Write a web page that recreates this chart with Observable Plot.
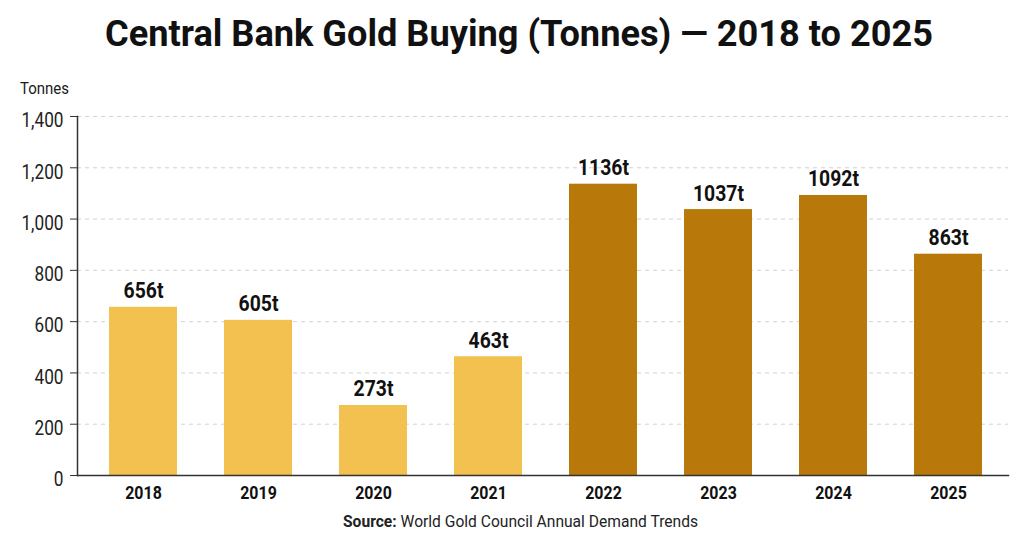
<!DOCTYPE html>
<html><head><meta charset="utf-8">
<script src="https://cdn.jsdelivr.net/npm/d3@7"></script>
<script src="https://cdn.jsdelivr.net/npm/@observablehq/plot@0.6"></script>
<style>
body{margin:0;background:#fff;font-family:Roboto,sans-serif;}
#wrap{position:relative;width:1024px;height:536px;overflow:hidden;background:#fff;}
#chart{position:absolute;left:0;top:75px;}
.line{position:absolute;white-space:nowrap;line-height:1;}
.line span{display:inline-block;transform-origin:left center;}
#title{left:0;top:15px;font-size:37px;font-weight:bold;color:#111;}
#ylab{left:19px;top:81px;font-size:16px;font-weight:normal;color:#1a1a1a;}
#cap{left:0;top:514px;font-size:16px;color:#222;}
</style></head>
<body><div id="wrap">
<div id="chart"></div>
<div id="title" class="line"><span>Central Bank Gold Buying (Tonnes) — 2018 to 2025</span></div>
<div id="ylab" class="line"><span>Tonnes</span></div>
<div id="cap" class="line"><span><b>Source:</b> World Gold Council Annual Demand Trends</span></div>
</div>
<script>
const years = ["2018","2019","2020","2021","2022","2023","2024","2025"];
const tonnes = [656, 605, 273, 463, 1136, 1037, 1092, 863];
const period = ["before","before","before","before","after","after","after","after"];
const yTicks = [0, 200, 400, 600, 800, 1000, 1200, 1400];

const data = years.map((y, i) => ({year: y, value: tonnes[i], period: period[i]}));

const chart = Plot.plot({
  width: 1024,
  height: 430,
  marginLeft: 77,
  marginRight: 16,
  marginTop: 41,
  marginBottom: 30,
  insetLeft: 6,
  style: {fontFamily: "Roboto, sans-serif", background: "transparent"},
  x: {domain: years, paddingInner: 0.41, paddingOuter: 0.21, label: null},
  y: {domain: [0, 1400], label: null},
  color: {domain: ["before","after"], range: ["#F2C14F","#B8790A"]},
  marks: [
    Plot.gridY(yTicks, {stroke: "#d2d2d2", strokeOpacity: 1, strokeDasharray: "4,4"}),
    Plot.barY(data, {x: "year", y: "value", fill: "period"}),
    Plot.frame({anchor: "left", stroke: "#333", strokeWidth: 1.5}),
    Plot.frame({anchor: "bottom", stroke: "#333", strokeWidth: 1.5}),
    Plot.axisY({ticks: yTicks, tickSize: 7, tickPadding: 7, tickFormat: d3.format(","), fontSize: 21, stroke: "#333", fill: "#222", className: "ylabels"}),
    Plot.axisX({tickSize: 0, tickPadding: 10, fontSize: 19, fontWeight: "bold", fill: "#111", className: "xlabels"}),
    Plot.text(data, {x: "year", y: "value", text: d => d.value + "t", dy: -9, lineAnchor: "bottom", fontSize: 22, fontWeight: "bold", fill: "#111", className: "vlabels"})
  ]
});
document.getElementById("chart").appendChild(chart);

function squeeze(sel, sx, ty = 0) {
  chart.querySelectorAll(sel).forEach(t => {
    const tr = t.getAttribute("transform") || "";
    t.setAttribute("transform", tr + ` translate(0,${ty}) scale(${sx},1)`);
  });
}
squeeze(".ylabels text", 0.82, 4);
squeeze(".xlabels text", 0.84);
squeeze(".vlabels text", 0.88);

function fit(id, targetWidth, left) {
  const el = document.getElementById(id);
  const span = el.querySelector("span");
  const w = span.getBoundingClientRect().width;
  span.style.transform = `scaleX(${targetWidth / w})`;
  el.style.left = left + "px";
}
fit("title", 828, 105);
fit("ylab", 49, 20);
fit("cap", 355, 343);
</script>
</body></html>
